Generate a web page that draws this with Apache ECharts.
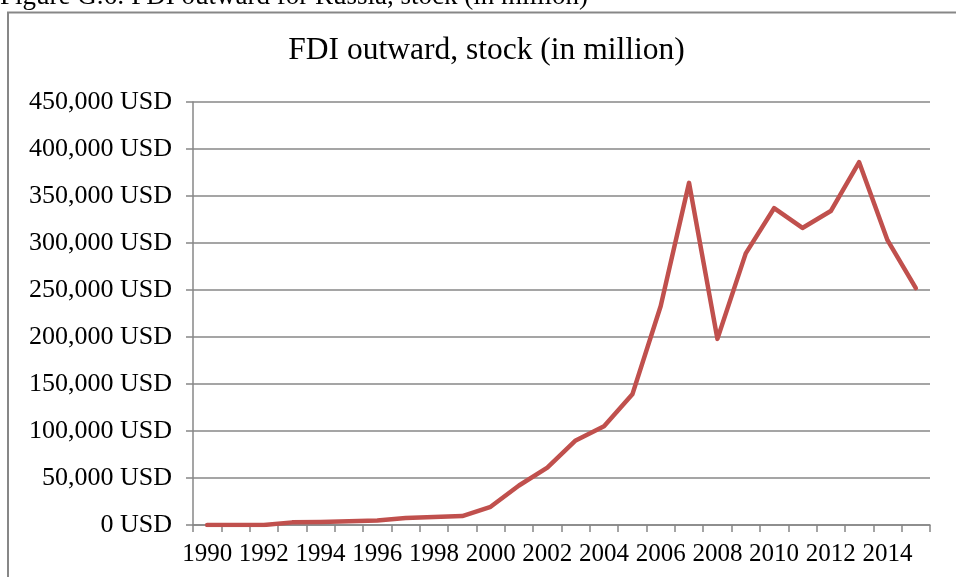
<!DOCTYPE html>
<html>
<head>
<meta charset="utf-8">
<script src="https://cdn.jsdelivr.net/npm/echarts@6/dist/echarts.min.js"></script>
<style>
html,body{margin:0;padding:0;background:#fff;}
#chart{width:956px;height:577px;}
</style>
</head>
<body>
<div id="chart"></div>
<script>
var years = ['1990','1991','1992','1993','1994','1995','1996','1997','1998','1999','2000','2001','2002','2003','2004','2005','2006','2007','2008','2009','2010','2011','2012','2013','2014','2015'];
var fdiStock = [0,0,0,2800,3200,3900,4900,7400,8500,9500,19400,42000,61000,90000,105000,139000,233000,364000,198000,289000,337000,316000,334000,386000,303000,252000];
var yTicks = {min:0, max:450000, interval:50000};
var captionText = 'Figure G.6: FDI outward for Russia, stock (in million)';
var titleText = 'FDI outward, stock (in million)';

var serif = "'Liberation Serif', 'Times New Roman', serif";
var chart = echarts.init(document.getElementById('chart'), null, {renderer:'canvas'});
chart.setOption({
  animation:false,
  backgroundColor:'#fff',
  graphic:[
    {type:'rect', shape:{x:8, y:12.5, width:1000, height:700}, style:{fill:'none', stroke:'#878787', lineWidth:2}, silent:true},
    {type:'text', x:0, y:-3, style:{text:captionText, font:'27px '+serif, fill:'#000', align:'left', verticalAlign:'middle'}},
    {type:'text', x:486.5, y:51, style:{text:titleText, font:'31.5px '+serif, fill:'#000', align:'center', verticalAlign:'middle'}}
  ],
  grid:{left:193, right:26, top:102, bottom:52, containLabel:false},
  xAxis:{
    type:'category',
    data:years,
    boundaryGap:true,
    axisLine:{lineStyle:{color:'#878787', width:1.5}},
    axisTick:{show:true, interval:0, length:7, alignWithLabel:false, lineStyle:{color:'#878787', width:1.5}},
    axisLabel:{interval:1, color:'#000', fontFamily:serif, fontSize:25, margin:17}
  },
  yAxis:{
    type:'value',
    min:yTicks.min, max:yTicks.max, interval:yTicks.interval,
    axisLine:{show:true, lineStyle:{color:'#878787', width:1.5}},
    axisTick:{show:true, length:7, lineStyle:{color:'#878787', width:1.5}},
    splitLine:{show:true, lineStyle:{color:'#878787', width:1.5}},
    axisLabel:{color:'#000', fontFamily:serif, fontSize:26, margin:21,
      formatter:function(v){return v.toLocaleString('en-US')+' USD';}}
  },
  series:[{
    type:'line',
    data:fdiStock,
    showSymbol:false,
    symbol:'none',
    lineStyle:{color:'#C0504D', width:4.5, cap:'round', join:'round'},
    itemStyle:{color:'#C0504D'}
  }]
});
</script>
</body>
</html>
